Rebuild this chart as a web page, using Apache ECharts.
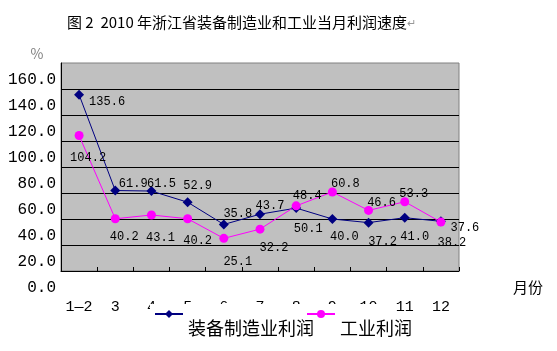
<!DOCTYPE html>
<html>
<head>
<meta charset="utf-8">
<script src="https://cdn.jsdelivr.net/npm/echarts@6/dist/echarts.min.js"></script>
<style>
  html, body { margin: 0; padding: 0; background: #fff; }
  #main { width: 557px; height: 351px; }
</style>
</head>
<body>
<div id="main"></div>
<script>
var months = ['1—2', '3', '4', '5', '6', '7', '8', '9', '10', '11', '12'];
// 装备制造业利润
var equipProfit = [135.6, 61.9, 61.5, 52.9, 35.8, 43.7, 48.4, 40.0, 37.2, 41.0, 38.2];
// 工业利润
var industryProfit = [104.2, 40.2, 43.1, 40.2, 25.1, 32.2, 50.1, 60.8, 46.6, 53.3, 37.6];

// 标签偏移（原图里数据标签位置不规则，单独写）
var equipLabelPos = [[28, 7], [18, -7], [10, -7], [10, -16], [14, -11], [10, -8], [11, -12], [12, 18], [14, 19], [10, 19], [11, 21]];
var industryLabelPos = [[9, 22], [9, 18], [9, 23], [10, 22], [14, 23], [14, 19], [12, 23], [13, -8], [13, -8], [9, -8], [24, 6]];

var monoFont = '"Liberation Mono", "DejaVu Sans Mono", monospace';
var cjkFont = '"Noto Sans CJK SC", sans-serif';

function withLabels(values, offsets) {
  var out = [];
  for (var i = 0; i < values.length; i++) {
    out.push({ value: values[i], label: { offset: offsets[i] } });
  }
  return out;
}

var myChart = echarts.init(document.getElementById('main'));

var option = {
  animation: false,
  backgroundColor: '#fff',
  title: {
    text: '{t|图 2  2010 年浙江省装备制造业和工业当月利润速度}{r|↵}',
    left: 62,
    top: 10,
    textStyle: {
      fontWeight: 'normal',
      rich: {
        t: { fontFamily: cjkFont, fontSize: 15, fontWeight: 'normal', color: '#000' },
        r: { fontFamily: cjkFont, fontSize: 11, color: '#999' }
      }
    }
  },
  // 原图图例的白底把部分月份文字盖住了
  graphic: [{
    type: 'rect',
    left: 150,
    top: 304,
    shape: { width: 246, height: 42 },
    style: { fill: '#fff' },
    z: 3
  }],
  legend: {
    left: 150,
    top: 284,
    padding: [2, 4, 2, 4],
    itemGap: -8,
    itemWidth: 28,
    itemHeight: 10,
    z: 5,
    textStyle: {
      fontFamily: cjkFont,
      fontSize: 18,
      lineHeight: 28,
      color: '#000'
    },
    // 文字放到图标下面一行
    formatter: function (name) { return '\n' + name; },
    data: ['装备制造业利润', '工业利润']
  },
  grid: [
    {
      left: 61,
      top: 63,
      right: 98,
      bottom: 80,
      show: true,
      backgroundColor: '#C0C0C0',
      borderColor: '#808080',
      borderWidth: 1
    },
    // 原图Y轴刻度文字整体往下错开了约17px，用第二个网格只放刻度文字
    { left: 61, top: 80, right: 98, bottom: 63, show: false }
  ],
  xAxis: [
    {
      type: 'category',
      data: months,
      boundaryGap: true,
      name: '\n月份',
      nameLocation: 'end',
      nameGap: 54,
      nameTextStyle: {
        fontFamily: cjkFont,
        fontSize: 15,
        lineHeight: 32,
        color: '#000'
      },
      axisLine: { lineStyle: { color: '#000', width: 1 } },
      axisTick: { show: true, inside: true, length: 4, lineStyle: { color: '#000' } },
      axisLabel: {
        margin: 29,
        fontFamily: monoFont,
        fontSize: 15,
        color: '#000'
      }
    },
    { gridIndex: 1, type: 'category', data: months, show: false }
  ],
  yAxis: [
    {
      type: 'value',
      min: 0,
      max: 160,
      interval: 20,
      name: '%',
      nameLocation: 'end',
      nameGap: 2,
      nameMoveOverlap: false,
      nameTextStyle: {
        fontFamily: cjkFont,
        fontSize: 14,
        color: '#808080',
        padding: [0, 48, 0, 0]
      },
      axisLine: { show: true, lineStyle: { color: '#000', width: 1 } },
      axisTick: { show: false },
      axisLabel: { show: false },
      splitLine: {
        show: true,
        showMinLine: false,
        showMaxLine: false,
        lineStyle: { color: '#000', width: 1 }
      }
    },
    {
      gridIndex: 1,
      type: 'value',
      min: 0,
      max: 160,
      interval: 20,
      axisLine: { show: false },
      axisTick: { show: false },
      splitLine: { show: false },
      axisLabel: {
        margin: 5,
        showMinLabel: true,
        showMaxLabel: true,
        fontFamily: monoFont,
        fontSize: 16,
        color: '#000',
        formatter: function (v) { return v.toFixed(1); }
      }
    }
  ],
  series: [
    {
      name: '装备制造业利润',
      type: 'line',
      data: withLabels(equipProfit, equipLabelPos),
      symbol: 'diamond',
      symbolSize: 10,
      showAllSymbol: true,
      lineStyle: { color: '#000080', width: 1 },
      itemStyle: { color: '#000080' },
      label: {
        show: true,
        position: 'inside',
        fontFamily: monoFont,
        fontSize: 12,
        color: '#000',
        formatter: function (p) { return p.value.toFixed(1); }
      }
    },
    {
      name: '工业利润',
      type: 'line',
      data: withLabels(industryProfit, industryLabelPos),
      symbol: 'circle',
      symbolSize: 9,
      showAllSymbol: true,
      lineStyle: { color: '#FF00FF', width: 1 },
      itemStyle: { color: '#FF00FF' },
      label: {
        show: true,
        position: 'inside',
        fontFamily: monoFont,
        fontSize: 12,
        color: '#000',
        formatter: function (p) { return p.value.toFixed(1); }
      }
    }
  ]
};

myChart.setOption(option);
</script>
</body>
</html>
